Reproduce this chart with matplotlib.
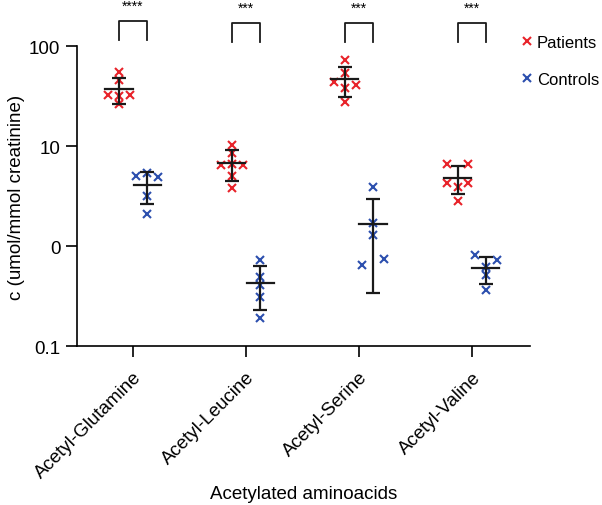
import numpy as np
import matplotlib
matplotlib.use("Agg")
import matplotlib.pyplot as plt

plt.rcParams['font.family'] = ['Liberation Sans', 'DejaVu Sans']

# data
aminoacids = ['Acetyl-Glutamine', 'Acetyl-Leucine', 'Acetyl-Serine', 'Acetyl-Valine']

patients = [
    [54.7, 45.5, 32.4, 32.4, 31.4, 26.1],
    [10.2, 8.6, 6.4, 6.4, 6.6, 5.0, 3.8],
    [72.7, 53.5, 44.2, 40.8, 37.8, 27.4],
    [6.6, 6.6, 4.3, 4.3, 3.9, 2.8],
]
controls = [
    [5.4, 5.0, 4.9, 3.2, 2.1],
    [0.73, 0.49, 0.41, 0.31, 0.19],
    [3.9, 1.7, 1.28, 0.75, 0.65],
    [0.82, 0.73, 0.62, 0.51, 0.36],
]
pat_mean = [37.2, 6.8, 46.6, 4.8]
pat_sd = [11.0, 2.3, 15.5, 1.5]
ctl_mean = [4.1, 0.43, 1.65, 0.60]
ctl_sd = [1.45, 0.2, 1.31, 0.18]
stars = ['****', '***', '***', '***']

# horizontal scatter side for each point (-1 left, 0 centre, 1 right)
pat_side = [[0, 0, -1, 1, 0, 0], [0, 0, -1, 1, 0, 0, 0], [0, 0, -1, 1, 0, 0], [-1, 1, -1, 1, 0, 0]]
ctl_side = [[0, -1, 1, 0, 0], [0, 0, 0, 0, 0], [0, 0, 0, 1, -1], [-1, 1, 0, 0, 0]]

red = '#e8232a'
blue = '#2c4fae'
off = 0.125
step = 0.095

fig = plt.figure(figsize=(6.02, 5.06), dpi=100)
ax = fig.add_axes([0.128, 0.314, 0.752, 0.593])

x = np.arange(len(aminoacids))
for i in range(len(aminoacids)):
    for vals, side, xc, col, lab in [(patients[i], pat_side[i], x[i] - off, red, 'Patients'),
                                     (controls[i], ctl_side[i], x[i] + off, blue, 'Controls')]:
        ax.plot(xc + np.array(side) * step, vals, 'x', color=col, ms=5.5, mew=1.5,
                label=lab if i == 0 else None, zorder=3)
    for xc, m, s in [(x[i] - off, pat_mean[i], pat_sd[i]), (x[i] + off, ctl_mean[i], ctl_sd[i])]:
        ax.errorbar(xc, m, yerr=s, fmt='none', ecolor='#1a1a1a', elinewidth=1.6,
                    capsize=4.7, capthick=1.6, zorder=4)
        ax.plot([xc - 0.12, xc + 0.12], [m, m], color='#1a1a1a', lw=1.6, zorder=4)

    # significance brackets
    top = 178 if i == 0 else 170
    bot = 115 if i == 0 else 110
    ax.plot([x[i] - off, x[i] - off, x[i] + off, x[i] + off], [bot, top, top, bot],
            color='#1a1a1a', lw=1.3, clip_on=False)
    ax.text(x[i], top * 1.2, stars[i], ha='center', va='bottom', fontsize=10)

ax.set_yscale('log')
ax.set_ylim(0.1, 100)
ax.set_xlim(-0.496, 3.513)
ax.set_yticks([0.1, 1, 10, 100])
ax.set_yticklabels(['0.1', '0', '10', '100'])
ax.minorticks_off()
ax.set_xticks(x)
ax.set_xticklabels(aminoacids, rotation=45, ha='right', rotation_mode='anchor')

ax.spines['top'].set_visible(False)
ax.spines['right'].set_visible(False)
for sp in ['left', 'bottom']:
    ax.spines[sp].set_linewidth(1.2)
ax.tick_params(axis='both', length=8, width=1.2, labelsize=13.5, pad=4)
ax.tick_params(axis='x', pad=8)

ax.set_ylabel('c (umol/mmol creatinine)', fontsize=13.5, labelpad=3)
ax.set_xlabel('Acetylated aminoacids', fontsize=13.5, labelpad=3)

fig.legend(loc='upper left', bbox_to_anchor=(0.864, 0.929), frameon=False, fontsize=12,
           handlelength=0.8, handletextpad=0.2, labelspacing=1.3, borderaxespad=0, borderpad=0)

fig.savefig('out.png', dpi=100)
